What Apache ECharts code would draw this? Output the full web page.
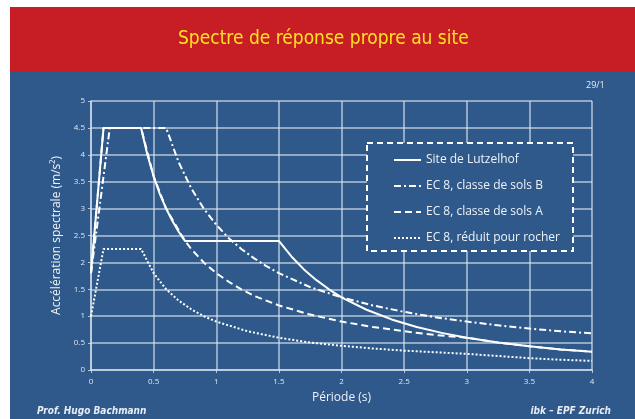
<!DOCTYPE html>
<html>
<head>
<meta charset="utf-8">
<script src="https://cdn.jsdelivr.net/npm/echarts@6.0.0/dist/echarts.min.js"></script>
<style>
  html, body { margin: 0; padding: 0; background: #fff; }
  #main { width: 635px; height: 419px; }
</style>
</head>
<body>
<div id="main"></div>
<script>
  /*-----spectre de reponse-----*/
  var periodTicks = ['0', '0.5', '1', '1.5', '2', '2.5', '3', '3.5', '4'];
  var accelTicks = ['0', '0.5', '1', '1.5', '2', '2.5', '3', '3.5', '4', '4.5', '5'];

  // [periode (s), acceleration (m/s2)]
  var lutzelhof = [[0, 1.8], [0.1, 4.5], [0.4, 4.5], [0.45, 4.0], [0.5, 3.6], [0.55, 3.27], [0.6, 3.0],
    [0.65, 2.77], [0.7, 2.57], [0.75, 2.4], [1.5, 2.4], [1.6, 2.11], [1.7, 1.87], [1.8, 1.67],
    [1.9, 1.5], [2.0, 1.35], [2.2, 1.12], [2.4, 0.94], [2.6, 0.8], [2.8, 0.69], [3.0, 0.6],
    [3.25, 0.51], [3.5, 0.44], [3.75, 0.38], [4.0, 0.34]];
  var solsB = [[0, 1.8], [0.15, 4.5], [0.6, 4.5], [0.7, 3.86], [0.8, 3.38], [0.9, 3.0], [1.0, 2.7],
    [1.1, 2.45], [1.2, 2.25], [1.3, 2.08], [1.4, 1.93], [1.5, 1.8], [1.75, 1.54], [2.0, 1.35],
    [2.25, 1.2], [2.5, 1.08], [2.75, 0.98], [3.0, 0.9], [3.25, 0.83], [3.5, 0.77], [3.75, 0.72], [4.0, 0.68]];
  var solsA = [[0, 1.8], [0.1, 4.5], [0.4, 4.5], [0.5, 3.6], [0.6, 3.0], [0.75, 2.4], [0.8, 2.25],
    [0.9, 2.0], [1.0, 1.8], [1.1, 1.64], [1.2, 1.5], [1.3, 1.38], [1.4, 1.29], [1.5, 1.2],
    [1.75, 1.03], [2.0, 0.9], [2.25, 0.8], [2.5, 0.72], [2.75, 0.65], [3.0, 0.6], [3.25, 0.51],
    [3.5, 0.44], [3.75, 0.38], [4.0, 0.34]];
  var rocher = [[0, 1.0], [0.1, 2.25], [0.4, 2.25], [0.5, 1.8], [0.6, 1.5], [0.7, 1.29], [0.8, 1.13],
    [0.9, 1.0], [1.0, 0.9], [1.25, 0.72], [1.5, 0.6], [1.75, 0.51], [2.0, 0.45], [2.25, 0.4],
    [2.5, 0.36], [2.75, 0.33], [3.0, 0.3], [3.25, 0.26], [3.5, 0.22], [3.75, 0.19], [4.0, 0.17]];

  var seriesNames = ['Site de Lutzelhof', 'EC 8, classe de sols B', 'EC 8, classe de sols A', 'EC 8, réduit pour rocher'];

  var blue = '#2f598a';
  var gridColor = 'rgba(215,225,238,0.8)';
  var font = '"Open Sans", "DejaVu Sans", sans-serif';
  var narrow = '"Liberation Sans Narrow", "DejaVu Sans Condensed", "Open Sans", sans-serif';

  function curve(name, data, dash, z) {
    return {
      name: name,
      type: 'line',
      data: data,
      symbol: 'none',
      z: z,
      silent: true,
      itemStyle: { color: '#fff' },
      lineStyle: { color: '#fff', width: 2, type: dash }
    };
  }

  var chart = echarts.init(document.getElementById('main'));
  var option = {
    animation: false,
    textStyle: { fontFamily: font },
    grid: { left: 91, right: 43, top: 101, bottom: 49 },
    graphic: [
      { type: 'rect', z: -10, shape: { x: 10, y: 72, width: 625, height: 347 }, style: { fill: blue } },
      { type: 'rect', z: -10, shape: { x: 10, y: 7, width: 625, height: 65 }, style: { fill: '#c61e24' } },
      { type: 'text', left: 178, top: 30, z: 5,
        style: { text: 'Spectre de réponse propre au site', fill: '#ffe21f', fontSize: 19, fontFamily: narrow } },
      { type: 'text', left: 586, top: 81, z: 5,
        style: { text: '29/1', fill: '#e8edf5', fontSize: 9, fontFamily: font } },
      { type: 'text', left: 37, top: 406, z: 5,
        style: { text: 'Prof. Hugo Bachmann', fill: '#e8edf5', fontSize: 10, fontStyle: 'italic', fontWeight: 'bold', fontFamily: narrow } },
      { type: 'text', right: 24, top: 406, z: 5,
        style: { text: 'ibk – EPF Zurich', fill: '#e8edf5', fontSize: 10, fontStyle: 'italic', fontWeight: 'bold', fontFamily: narrow } },
      { type: 'rect', z: 3, shape: { x: 367, y: 143, width: 206, height: 108 },
        style: { fill: blue, stroke: '#fff', lineWidth: 2, lineDash: [6, 4] } }
    ],
    legend: {
      data: seriesNames,
      orient: 'vertical',
      left: 388,
      top: 149,
      itemGap: 14,
      itemWidth: 27,
      itemHeight: 14,
      z: 6,
      itemStyle: { opacity: 0 },
      textStyle: { color: '#eef2f8', fontSize: 12, fontFamily: font }
    },
    xAxis: {
      type: 'value',
      min: 0,
      max: 4,
      interval: 0.5,
      name: 'Période (s)',
      nameLocation: 'middle',
      nameGap: 22,
      nameTextStyle: { color: '#eef2f8', fontSize: 12 },
      axisLine: { show: true, lineStyle: { color: gridColor, width: 1.5 } },
      axisTick: { show: true, length: 3, lineStyle: { color: gridColor } },
      axisLabel: {
        fontSize: 8, color: '#dfe6f0', margin: 8,
        formatter: function (v) { return periodTicks[Math.round(v * 2)]; }
      },
      splitLine: { show: true, lineStyle: { color: gridColor, width: 1.5 } }
    },
    yAxis: {
      type: 'value',
      min: 0,
      max: 5,
      interval: 0.5,
      name: 'Accélération spectrale (m/s²)',
      nameLocation: 'middle',
      nameGap: 27,
      nameTextStyle: { color: '#eef2f8', fontSize: 12 },
      axisLine: { show: true, lineStyle: { color: gridColor, width: 1.5 } },
      axisTick: { show: true, length: 3, lineStyle: { color: gridColor } },
      axisLabel: {
        fontSize: 8, color: '#dfe6f0', margin: 6,
        formatter: function (v) { return accelTicks[Math.round(v * 2)]; }
      },
      splitLine: { show: true, lineStyle: { color: gridColor, width: 1.5 } }
    },
    series: [
      curve(seriesNames[0], lutzelhof, 'solid', 5),
      curve(seriesNames[1], solsB, [7, 3, 2, 3], 4),
      curve(seriesNames[2], solsA, [7, 4], 3),
      curve(seriesNames[3], rocher, [2, 2], 2)
    ]
  };

  chart.setOption(option);
</script>
</body>
</html>
